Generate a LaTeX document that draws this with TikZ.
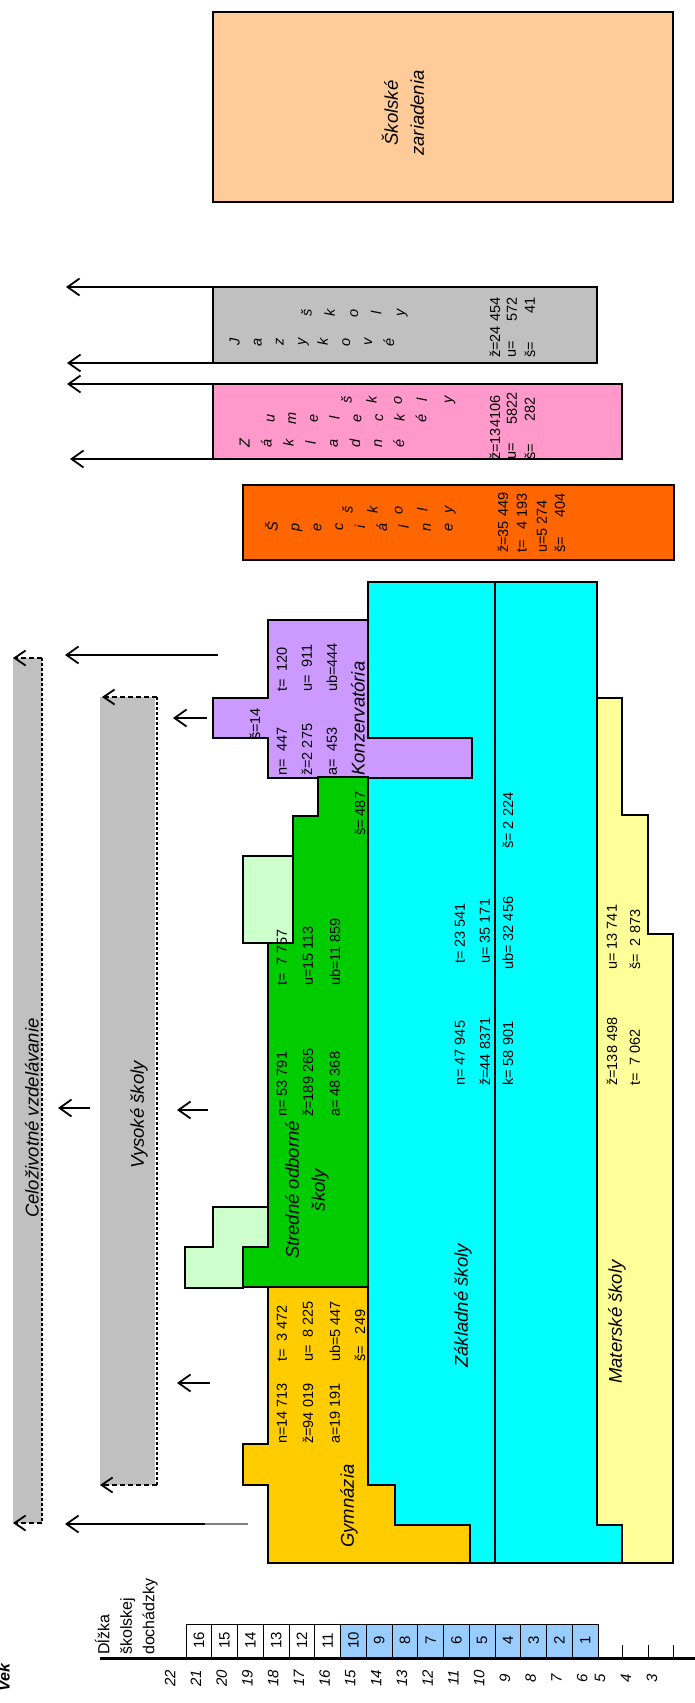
\documentclass[tikz,border=0pt]{standalone}
\usepackage{fontspec}
\setmainfont{Liberation Sans}
\usetikzlibrary{arrows.meta}
\definecolor{cpeach}{HTML}{FFCC99}
\definecolor{cgray}{HTML}{C0C0C0}
\definecolor{cpink}{HTML}{FF99CC}
\definecolor{corange}{HTML}{FF6600}
\definecolor{cpurple}{HTML}{CC99FF}
\definecolor{cgreen}{HTML}{00CC00}
\definecolor{clgreen}{HTML}{CCFFCC}
\definecolor{cgold}{HTML}{FFCC00}
\definecolor{ccyan}{HTML}{00FFFF}
\definecolor{cyellow}{HTML}{FFFF99}
\definecolor{cblue}{HTML}{99CCFF}
\begin{document}
\begin{tikzpicture}[x=1pt,y=-1pt,
  region/.style={draw=black,line width=1.1pt},
  num/.style={rotate=90,inner sep=0pt,anchor=west,font=\fontsize{14.5}{17}\selectfont},
  numend/.style={num,anchor=east},
  ttl/.style={rotate=90,inner sep=0pt,font=\fontsize{18.5}{26}\selectfont\itshape,align=center},
  ltr/.style={rotate=90,inner sep=0pt,anchor=base,font=\fontsize{14.5}{17}\selectfont\itshape},
  boxnum/.style={rotate=90,inner sep=0pt,font=\fontsize{15}{17}\selectfont},
  agel/.style={rotate=90,inner sep=0pt,font=\fontsize{15}{17}\selectfont\itshape},
  arr/.style={line width=1.5pt,-{Straight Barb[length=12pt,width=17pt,line width=1.8pt]}},
  darr/.style={line width=1.8pt,dash pattern=on 5pt off 3pt,-{Straight Barb[length=11pt,width=15pt,line width=1.8pt]}},
  dotl/.style={line width=2.6pt,dash pattern=on 2.6pt off 2.4pt},
]
\useasboundingbox (0,0) rectangle (695,1703);
\fill[white] (0,0) rectangle (695,1703);

% Skolske zariadenia
\draw[region,fill=cpeach] (213,12) rectangle (673,202);
\node[ttl] (sz) at (403,113) {Školské\\zariadenia};

% Jazykove skoly
\draw[region,fill=cgray] (213,287) rectangle (597,363);
\foreach \c [count=\i from 0] in {J,a,z,y,k,o,v,é} \node[ltr] (jz\i) at ({239.5+\i*22.1},342) {\c};
\foreach \c [count=\i from 0] in {š,k,o,l,y} \node[ltr] (js\i) at ({311.5+\i*23.25},313) {\c};
\node[num] (jn1) at (495,358) {ž=24 454};
\node[num] (jn2) at (512,358) {u=};
\node[numend] (jn2b) at (512,297) {572};
\node[num] (jn3) at (530,358) {š=};
\node[numend] (jn3b) at (530,297) {41};

% ZUS
\draw[region,fill=cpink] (213,384) rectangle (622,459);
\foreach \c [count=\i from 0] in {Z,á,k,l,a,d,n,é} \node[ltr] (zz\i) at ({249.5+\i*22.1},443) {\c};
\foreach \c [count=\i from 0] in {u,m,e,l,e,c,k,é} \node[ltr] (zu\i) at ({274.5+\i*21.7},418) {\c};
\foreach \c [count=\i from 0] in {š,k,o,l,y} \node[ltr] (zs\i) at ({351.5+\i*25.2},400) {\c};
\node[num] (zn1) at (495,460) {ž=134106};
\node[num] (zn2) at (512,460) {u=};
\node[numend] (zn2b) at (512,392) {5822};
\node[num] (zn3) at (530,460) {š=};
\node[numend] (zn3b) at (530,397) {282};

% Specialne skoly
\draw[region,fill=corange] (243,485) rectangle (674,560);
\foreach \c [count=\i from 0] in {Š,p,e,c,i,á,l,n,e} \node[ltr] (sp\i) at ({277.5+\i*21.9},527) {\c};
\foreach \c [count=\i from 0] in {š,k,o,l,y} \node[ltr] (ss\i) at ({352.5+\i*25},510) {\c};
\node[num] (sn1) at (503,553) {ž=35 449};
\node[num] (sn2) at (522,553) {t=};
\node[numend] (sn2b) at (522,493) {4 193};
\node[num] (sn3) at (542,553) {u=5 274};
\node[num] (sn4) at (560,553) {š=};
\node[numend] (sn4b) at (560,493) {404};

% arrows from the top boxes
\coordinate (t1) at (213,287); \coordinate (h1) at (66,287);
\coordinate (t2) at (213,363); \coordinate (h2) at (67,363);
\coordinate (t3) at (213,384); \coordinate (h3) at (67,384);
\coordinate (t4) at (213,459); \coordinate (h4) at (70,459);
\draw[arr] (t1) -- (h1);
\draw[arr] (t2) -- (h2);
\draw[arr] (t3) -- (h3);
\draw[arr] (t4) -- (h4);

% Zakladne skoly (cyan)
\draw[region,fill=ccyan] (368,582) -- (597,582) -- (597,1525) -- (622,1525) -- (622,1563) -- (470,1563) -- (470,1525) -- (395,1525) -- (395,1485) -- (368,1485) -- cycle;
\draw[line width=1.1pt] (495,582) -- (495,1563);
% Materske skoly
\draw[region,fill=cyellow] (597,698) -- (622,698) -- (622,815) -- (648,815) -- (648,934) -- (673,934) -- (673,1563) -- (622,1563) -- (622,1525) -- (597,1525) -- cycle;
% Konzervatoria
\draw[region,fill=cpurple] (268,620) -- (368,620) -- (368,738) -- (472,738) -- (472,778) -- (268,778) -- (268,738) -- (213,738) -- (213,698) -- (268,698) -- cycle;
% SOS
\draw[region,fill=cgreen] (318,777) -- (368,777) -- (368,1287) -- (243,1287) -- (243,1247) -- (268,1247) -- (268,943) -- (293,943) -- (293,816) -- (318,816) -- cycle;
\draw[region,fill=clgreen] (243,856) rectangle (293,943);
\draw[region,fill=clgreen] (213,1207) -- (268,1207) -- (268,1247) -- (243,1247) -- (243,1288) -- (185,1288) -- (185,1247) -- (213,1247) -- cycle;
% Gymnazia
\draw[region,fill=cgold] (268,1287) -- (368,1287) -- (368,1485) -- (395,1485) -- (395,1525) -- (470,1525) -- (470,1563) -- (268,1563) -- (268,1485) -- (243,1485) -- (243,1444) -- (268,1444) -- cycle;

% Konzervatoria texts
\node[num] (kn1) at (282,776) {n= \ 447};
\node[num] (kn2) at (282,692) {t= \ 120};
\node[num] (kn3) at (307,776) {ž=2 275};
\node[num] (kn4) at (307,692) {u= \ 911};
\node[num] (kn5) at (332,776) {a= \ 453};
\node[num] (kn6) at (332,692) {ub=444};
\node[num] (kn7) at (255,740) {š=14};
\node[ttl,anchor=west] (kt) at (358,776) {Konzervatória};

% SOS texts
\node[num] (on1) at (282,1117) {n= 53 791};
\node[num] (on2) at (282,986) {t= \ 7 757};
\node[num] (on3) at (308,1117) {ž=189 265};
\node[num] (on4) at (308,986) {u=15 113};
\node[num] (on5) at (335,1117) {a= 48 368};
\node[num] (on6) at (335,986) {ub=11 859};
\node[num] (on7) at (360,836) {š= 487};
\node[ttl] (ot) at (307,1190) {Stredné odborné\\školy};

% Gymnazia texts
\node[num] (gn1) at (282,1444) {n=14 713};
\node[num] (gn2) at (282,1362) {t= \ 3 472};
\node[num] (gn3) at (308,1444) {ž=94 019};
\node[num] (gn4) at (308,1362) {u= \ 8 225};
\node[num] (gn5) at (335,1444) {a=19 191};
\node[num] (gn6) at (335,1362) {ub=5 447};
\node[num] (gn7) at (360,1362) {š= \ \ 249};
\node[ttl] (gt) at (349,1506) {Gymnázia};

% Zakladne texts
\node[num] (bn1) at (460,1086) {n= 47 945};
\node[num] (bn2) at (460,964) {t= 23 541};
\node[num] (bn3) at (485,1086) {ž=44 8371};
\node[num] (bn4) at (485,964) {u= 35 171};
\node[num] (bn5) at (508,1086) {k= 58 901};
\node[num] (bn6) at (508,970) {ub= 32 456};
\node[num] (bn7) at (508,849) {š= 2 224};
\node[ttl] (bt) at (463,1306) {Základné školy};

% Materske texts
\node[num] (mn1) at (612,1086) {ž=138 498};
\node[num] (mn2) at (612,970) {u= 13 741};
\node[num] (mn3) at (635,1086) {t= \ 7 062};
\node[num] (mn4) at (635,970) {š= \ 2 873};
\node[ttl] (mt) at (617,1322) {Materské školy};

% Celozivotne vzdelavanie bar
\fill[cgray] (13,658) rectangle (42,1523);
\draw[dotl] (42,658) -- (42,1523);
\coordinate (c1) at (42,658); \coordinate (c1h) at (13,658);
\coordinate (c2) at (42,1523); \coordinate (c2h) at (13,1523);
\draw[darr] (c1) -- (c1h);
\draw[darr] (c2) -- (c2h);
\node[ttl] (ct) at (32,1118) {Celoživotné vzdelávanie};

% Vysoke skoly bar
\fill[cgray] (100,697) rectangle (155,1485);
\draw[dotl] (157,697) -- (157,1485);
\coordinate (v1) at (157,697); \coordinate (v1h) at (102,697);
\coordinate (v2) at (157,1485); \coordinate (v2h) at (100,1485);
\draw[darr] (v1) -- (v1h);
\draw[darr] (v2) -- (v2h);
\node[ttl] (vt) at (139,1115) {Vysoké školy};

% free arrows
\coordinate (a5t) at (218,655); \coordinate (a5h) at (65,655);
\coordinate (a8t) at (207,718); \coordinate (a8h) at (173,718);
\coordinate (a9t) at (90,1108); \coordinate (a9h) at (58,1108);
\coordinate (a10t) at (208,1110); \coordinate (a10h) at (177,1110);
\coordinate (a11t) at (210,1383); \coordinate (a11h) at (177,1383);
\coordinate (a14t) at (248,1524); \coordinate (a14m) at (205,1524); \coordinate (a14h) at (65,1524);
\draw[arr] (a5t) -- (a5h);
\draw[arr] (a8t) -- (a8h);
\draw[arr] (a9t) -- (a9h);
\draw[arr] (a10t) -- (a10h);
\draw[arr] (a11t) -- (a11h);
\draw[line width=1.5pt,gray] (a14t) -- (a14m);
\draw[arr] (a14m) -- (a14h);

% age axis
\foreach \k in {1,...,10} {
  \draw[fill=cblue,line width=1pt] ({598-\k*25.75},1624) rectangle ({598-(\k-1)*25.75},1657);
  \node[boxnum] (b\k) at ({598-(\k-0.5)*25.75},1640.5) {\k};
}
\foreach \k in {11,...,16} {
  \draw[fill=white,line width=1pt] ({598-\k*25.75},1624) rectangle ({598-(\k-1)*25.75},1657);
  \node[boxnum] (b\k) at ({598-(\k-0.5)*25.75},1640.5) {\k};
}
\coordinate (ax1) at (100,1658); \coordinate (ax2) at (695,1658);
\draw[line width=3pt] (ax1) -- (ax2);
\foreach \xx in {622,648,673} \draw[line width=1pt] (\xx,1645) -- (\xx,1658);
\foreach \a in {6,...,22} \node[agel] (age\a) at ({598-(\a-5.5)*25.75-3},1678) {\a};
\node[agel] (age5) at (600,1678) {5};
\node[agel] (age4) at (626,1678) {4};
\node[agel] (age3) at (652,1678) {3};
\node[rotate=90,inner sep=0pt,font=\fontsize{16}{22.5}\selectfont,align=left,anchor=south west] (dl) at (158,1655) {Dĺžka\\školskej\\dochádzky};
\node[rotate=90,inner sep=0pt,font=\fontsize{16}{18}\selectfont\bfseries\itshape] (vek) at (4,1678) {Vek};
\end{tikzpicture}
\end{document}
